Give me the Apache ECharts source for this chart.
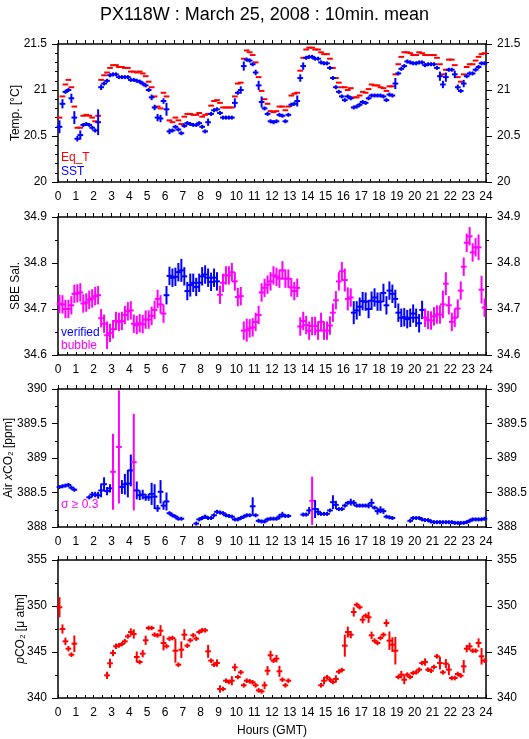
<!DOCTYPE html>
<html><head><meta charset="utf-8">
<script src="https://cdn.jsdelivr.net/npm/echarts@6/dist/echarts.min.js"></script>
<style>html,body{margin:0;padding:0;background:#fff}#c{width:529px;height:739px}</style>
</head><body><div id="c"></div>
<script>
// ---- data: 10-minute means, index i = 0..143 (one value per 10 min) ----
const titleText = 'PX118W : March 25, 2008 : 10min. mean';
const hourTicks = [0,1,2,3,4,5,6,7,8,9,10,11,12,13,14,15,16,17,18,19,20,21,22,23,24];

const eqT = [
 20.70,20.93,21.06,21.11,21.03,20.82, 20.59,20.59,20.72,20.73,20.72,20.70,
 20.66,20.72,21.11,21.16,21.19,21.24, 21.27,21.27,21.25,21.25,21.24,21.24,
 21.20,21.20,21.19,21.20,21.18,21.15, 21.09,21.03,20.93,20.82,20.80,20.97,
 20.93,20.67,20.65,20.70,20.67,20.63, 20.71,20.74,20.74,20.73,20.73,20.75,
 20.71,20.73,20.74,20.83,20.88,20.89, 20.86,20.81,20.81,20.81,20.81,20.93,
 21.07,21.08,21.34,21.43,21.41,21.38, 21.30,21.14,20.99,20.90,20.85,20.77,
 20.76,20.77,20.82,20.82,20.78,20.82, 20.94,20.96,20.97,21.21,21.35,21.44,
 21.46,21.46,21.44,21.44,21.41,21.39, 21.39,21.34,21.24,21.13,21.08,21.03,
 21.03,21.00,21.02,20.92,20.92,20.94, 20.98,20.97,21.01,21.06,21.05,21.05,
 21.03,21.02,20.99,21.04,21.04,21.17, 21.28,21.36,21.41,21.41,21.40,21.38,
 21.38,21.41,21.40,21.38,21.38,21.38, 21.38,21.35,21.28,21.17,21.22,21.33,
 21.33,21.27,21.14,21.09,21.17,21.25, 21.28,21.28,21.32,21.36,21.39,21.40];

const sst = [
 20.60,20.85,20.98,21.00,20.91,20.70, 20.47,20.51,20.62,20.63,20.62,20.59,
 20.56,20.65,21.03,21.07,21.10,21.16, 21.17,21.17,21.14,21.14,21.14,21.14,
 21.11,21.11,21.10,21.09,21.07,21.05, 21.00,20.92,20.81,20.70,20.69,20.88,
 20.79,20.55,20.56,20.60,20.57,20.53, 20.61,20.64,20.63,20.62,20.62,20.64,
 20.60,20.55,20.65,20.74,20.78,20.79, 20.75,20.70,20.70,20.70,20.70,20.86,
 20.97,21.00,21.26,21.33,21.32,21.28, 21.19,21.05,20.87,20.80,20.74,20.66,
 20.65,20.66,20.73,20.72,20.66,20.73, 20.84,20.85,20.88,21.13,21.26,21.35,
 21.36,21.36,21.34,21.34,21.30,21.29, 21.29,21.24,21.13,21.03,20.98,20.93,
 20.89,20.93,20.91,20.81,20.82,20.84, 20.87,20.86,20.91,20.94,20.94,20.94,
 20.94,20.93,20.89,20.95,20.94,21.07, 21.18,21.23,21.26,21.31,21.30,21.29,
 21.29,21.30,21.30,21.27,21.28,21.28, 21.28,21.24,21.15,21.06,21.14,21.22,
 21.22,21.17,21.03,20.99,21.07,21.15, 21.18,21.18,21.22,21.25,21.29,21.29];
const sstErrDefault = 0.012;
const sstErr = {0:0.07,1:0.05,4:0.05,5:0.07,6:0.03,7:0.05,13:0.14,14:0.03,31:0.03,32:0.03,33:0.04,34:0.04,35:0.03,36:0.07,37:0.03,50:0.04,59:0.05,61:0.04,62:0.05,66:0.03,67:0.05,68:0.06,80:0.06,81:0.04,82:0.04,113:0.06,128:0.05,129:0.04,130:0.05,133:0.04,134:0.03,136:0.04};

const sal = [
 34.711,34.710,34.700,34.700,34.708,34.733, 34.734,34.736,34.712,34.714,34.720,34.723,
 34.728,34.730,34.680,34.668,34.643,34.648, 34.656,34.674,34.672,34.674,34.687,34.695,
 34.697,34.668,34.665,34.669,34.667,34.677, 34.677,34.685,34.698,34.722,34.710,34.690,
 34.730,34.772,34.768,34.770,34.780,34.784, 34.771,34.739,34.752,34.757,34.748,34.757,
 34.771,34.775,34.768,34.759,34.768,34.760, 34.731,34.757,34.773,34.773,34.780,34.760,
 34.726,34.728,34.653,34.654,34.658,34.660, 34.672,34.687,34.736,34.746,34.753,34.760,
 34.773,34.770,34.766,34.784,34.766,34.766, 34.747,34.739,34.746,34.662,34.674,34.665,
 34.653,34.663,34.663,34.653,34.672,34.653, 34.653,34.664,34.692,34.719,34.760,34.782,
 34.763,34.722,34.725,34.692,34.697,34.705, 34.717,34.716,34.700,34.718,34.725,34.716,
 34.716,34.735,34.708,34.740,34.733,34.722, 34.692,34.681,34.682,34.678,34.681,34.690,
 34.681,34.669,34.698,34.681,34.676,34.675, 34.684,34.688,34.688,34.710,34.755,34.708,
 34.672,34.681,34.701,34.740,34.792,34.844, 34.858,34.823,34.834,34.834,34.742,34.703];
// 1 = bubble (magenta), 0 = verified (blue)
const salBubble = [
 1,1,1,1,1,1, 1,1,1,1,1,1, 1,1,1,1,1,1, 1,1,1,1,1,1, 1,1,1,1,1,1, 1,1,1,1,1,1,
 0,0,0,0,0,0, 0,0,0,0,0,0, 0,0,0,0,0,0, 1,1,1,1,1,1, 1,1,1,1,1,1, 1,1,1,1,1,1,
 1,1,1,1,1,1, 1,1,1,1,1,1, 1,1,1,1,1,1, 1,1,1,1,1,1, 1,1,1,0,0,0, 0,0,0,0,0,0,
 0,0,0,0,0,0, 0,0,0,0,0,0, 0,0,0,1,1,1, 1,1,1,1,1,1, 1,1,1,1,1,1, 1,1,1,1,1,1];
const salErrDefault = 0.02;
const salErr = {16:0.03,41:0.025,44:0.025,63:0.025,96:0.025,97:0.025,99:0.025,129:0.03,130:0.025,141:0.028,142:0.03};

const air = [
 388.58,388.59,388.60,388.61,388.57,388.54, null,null,null,null,388.43,388.47,
 388.47,388.46,388.53,388.62,388.52,388.56, 388.80,null,389.16,388.58,388.62,388.63,
 388.82,388.94,388.53,388.46,388.47,388.43, 388.43,388.48,388.44,388.27,388.51,388.31,
 388.37,388.20,388.17,388.15,388.12,388.12, null,null,null,null,388.05,388.11,
 388.13,388.15,388.13,388.13,388.17,388.22, 388.21,388.20,388.17,388.16,388.15,388.11,
 388.11,388.13,388.15,388.17,388.17,388.30, 388.17,388.09,388.08,388.08,388.11,388.12,
 388.12,388.12,388.15,388.18,388.16,388.16, null,null,null,null,388.18,388.18,
 388.24,388.38,388.26,388.22,388.19,388.19, 388.19,388.24,388.36,388.32,388.26,388.26,
 388.31,388.35,388.36,388.35,388.31,388.31, 388.31,388.31,388.31,388.35,388.28,388.23,
 388.25,388.23,388.15,388.14,388.13,null, null,null,null,null,388.09,388.13,
 388.13,388.13,388.11,388.10,388.10,388.08, 388.07,388.07,388.07,388.07,388.07,388.07,
 388.07,388.06,388.06,388.06,388.06,388.07, 388.09,388.11,388.11,388.11,388.11,388.12];
const airErrDefault = 0.02;
const airErr = {3:0.03,10:0.03,11:0.04,12:0.04,13:0.05,14:0.1,15:0.1,16:0.06,17:0.06,18:0.55,20:0.82,21:0.1,22:0.15,23:0.2,24:0.23,25:0.7,26:0.13,27:0.07,28:0.07,29:0.05,30:0.05,31:0.16,32:0.18,33:0.05,34:0.17,35:0.06,36:0.13,65:0.13,74:0.04,75:0.04,84:0.05,85:0.35,86:0.13,87:0.05,92:0.1,93:0.06,98:0.05,99:0.04,104:0.04,105:0.06,107:0.05,108:0.05,109:0.04};
const airSigmaLimit = 0.3;

const pco2 = [
 349.86,347.50,346.16,345.36,344.71,345.90, null,null,null,null,null,null,
 null,null,null,null,342.46,343.77, 344.89,345.62,345.72,345.87,346.16,346.70,
 347.17,346.96,344.46,343.91,344.82,346.27, 347.61,347.61,346.88,346.81,347.32,345.98,
 345.62,346.45,346.52,345.14,343.62,345.25, 346.88,345.69,346.27,346.81,346.45,347.17,
 347.36,347.36,345.07,344.06,343.62,343.80, 340.98,340.98,341.88,341.74,341.88,343.33,
 342.28,342.79,341.38,341.88,341.81,341.70, 341.38,340.83,340.72,341.38,342.97,344.64,
 344.06,344.28,342.90,341.99,341.38,341.88, null,null,null,null,null,null,
 null,null,null,null,341.38,341.88, 342.25,341.99,341.74,342.07,342.86,343.04,
 345.69,347.17,346.88,349.35,350.14,349.86, 348.51,348.95,348.77,346.81,346.23,345.98,
 346.52,346.88,348.15,346.23,345.80,345.14, 342.28,342.54,341.99,342.54,342.28,342.72,
 342.79,343.08,343.80,343.91,343.08,342.97, 343.37,344.53,343.80,342.79,343.73,343.08,
 342.17,342.17,342.61,342.43,343.44,345.36, 345.62,345.14,345.14,345.98,344.53,344.06];
const pco2ErrDefault = 0.25;
const pco2Err = {0:1.1,1:0.5,2:0.4,3:0.3,5:0.9,16:0.4,17:0.5,18:0.35,19:0.3,24:0.4,25:0.5,26:0.6,28:0.4,29:0.5,34:0.6,35:0.8,39:1.3,41:0.9,42:0.6,50:0.7,53:0.4,54:0.4,58:0.5,59:0.4,69:0.4,70:0.5,71:0.5,73:0.4,74:0.6,89:0.4,93:0.4,96:1.2,97:0.6,98:0.4,99:0.5,102:0.4,104:0.6,105:0.4,110:0.4,111:1.0,112:0.8,113:1.5,115:0.4,116:0.5,123:0.4,128:0.7,130:0.5,131:0.6,136:0.7,137:0.4,138:0.4,141:0.5,142:0.9};

// ---- styling ----
const FF = '"Liberation Sans", Arial, Helvetica, sans-serif';
const RED = '#ff0000', BLUE = '#0000ff', MAG = '#ff00ff';
const STEP = 1 / 6;          // 10 minutes in hours
const HW = 0.16;             // half width of horizontal bar (hours)
const LW = 2;                // mark line width
const MINV = 2;              // minimal half height of vertical bar (px)

function points(vals, errMap, errDef, flags) {
  const out = [];
  vals.forEach((v, i) => {
    if (v == null) return;
    const e = errMap && errMap[i] != null ? errMap[i] : errDef;
    out.push([i * STEP + STEP / 2, v, e, flags ? flags[i] : 0]);
  });
  return out;
}

function markSeries(grid, data, colorFn, vertical) {
  return {
    type: 'custom', xAxisIndex: grid * 2, yAxisIndex: grid * 2,
    dimensions: ['t', 'v', 'e', 'f'], encode: { x: 't', y: 'v' },
    data: data, animation: false, silent: true,
    renderItem: function (params, api) {
      const t = api.value(0), v = api.value(1), e = api.value(2), f = api.value(3);
      const color = colorFn(f, e);
      const a = api.coord([t - HW, v]), b = api.coord([t + HW, v]);
      const children = [{ type: 'line', shape: { x1: a[0], y1: a[1], x2: b[0], y2: b[1] },
        style: { stroke: color, lineWidth: LW } }];
      if (vertical) {
        const c = api.coord([t, v]);
        let top = api.coord([t, v + e])[1], bot = api.coord([t, v - e])[1];
        if (bot - top < 2 * MINV) { top = c[1] - MINV; bot = c[1] + MINV; }
        children.push({ type: 'line', shape: { x1: c[0], y1: top, x2: c[0], y2: bot },
          style: { stroke: color, lineWidth: LW } });
      }
      return { type: 'group', children: children };
    }
  };
}

const gridTops = [44, 217, 389, 560];
const GH = 138;
const yConf = [
  { min: 20, max: 21.5, interval: 0.5, minor: 5, name: 'Temp. [°C]', gap: 35 },
  { min: 34.6, max: 34.9, interval: 0.1, minor: 2, name: 'SBE Sal.', gap: 35 },
  { min: 388, max: 390, interval: 0.5, minor: 2, name: 'Air {i|x}CO₂ [ppm]', gap: 42 },
  { min: 340, max: 355, interval: 5, minor: 2, name: '{i|p}CO₂ [μ atm]', gap: 30 }
];

const black = { color: '#000', width: 1.5 };
const grids = [], xAxes = [], yAxes = [];
gridTops.forEach((top, g) => {
  grids.push({ left: 58, right: 43, top: top, height: GH, containLabel: false, outerBoundsMode: 'none' });
  const last = g === gridTops.length - 1;
  xAxes.push({
    gridIndex: g, type: 'value', min: hourTicks[0], max: hourTicks[hourTicks.length - 1], interval: 1,
    position: 'bottom',
    axisLine: { show: true, onZero: false, lineStyle: black },
    axisTick: { show: true, inside: true, length: 3, lineStyle: { color: '#000', width: 1 } },
    minorTick: { show: true, splitNumber: 2, length: 3, lineStyle: { color: '#000', width: 1 } },
    axisLabel: { show: true, interval: 0, color: '#000', fontSize: 12, fontFamily: FF, margin: 9 },
    splitLine: { show: false },
    name: last ? 'Hours (GMT)' : '', nameLocation: 'middle', nameGap: 27, nameMoveOverlap: false,
    nameTextStyle: { color: '#000', fontSize: 12, fontFamily: FF }
  });
  xAxes.push({
    gridIndex: g, type: 'value', min: 0, max: 24, interval: 1, position: 'top',
    axisLine: { show: true, onZero: false, lineStyle: black },
    axisTick: { show: true, inside: false, length: 4, lineStyle: { color: '#000', width: 1 } },
    minorTick: { show: true, splitNumber: 2, length: 4, lineStyle: { color: '#000', width: 1 } },
    axisLabel: { show: false }, splitLine: { show: false }
  });
  const c = yConf[g];
  const yBase = {
    gridIndex: g, type: 'value', min: c.min, max: c.max, interval: c.interval,
    axisLine: { show: true, onZero: false, lineStyle: black },
    axisTick: { show: true, inside: false, length: 6, lineStyle: { color: '#000', width: 1 } },
    minorTick: { show: true, splitNumber: c.minor, length: 3, lineStyle: { color: '#000', width: 1 } },
    axisLabel: { color: '#000', fontSize: 12, fontFamily: FF, margin: 11 },
    splitLine: { show: false }
  };
  yAxes.push(Object.assign({}, yBase, {
    position: 'left', name: c.name, nameLocation: 'middle', nameGap: c.gap, nameMoveOverlap: false,
    nameTextStyle: { color: '#000', fontSize: 12, lineHeight: 14, fontFamily: FF,
      rich: { i: { fontStyle: 'italic', fontSize: 12, lineHeight: 14, fontFamily: FF, color: '#000' } } }
  }));
  yAxes.push(Object.assign({}, yBase, { position: 'right' }));
});

const series = [
  markSeries(0, points(eqT, null, 0), () => RED, false),
  markSeries(0, points(sst, sstErr, sstErrDefault), () => BLUE, true),
  markSeries(1, points(sal, salErr, salErrDefault, salBubble), (f) => f ? MAG : BLUE, true),
  markSeries(2, points(air, airErr, airErrDefault), (f, e) => e >= airSigmaLimit ? MAG : BLUE, true),
  markSeries(3, points(pco2, pco2Err, pco2ErrDefault), () => RED, true)
];

function label(text, x, y, color) {
  return { type: 'text', x: x, y: y, silent: true,
    style: { text: text, fill: color, font: '12px ' + FF, align: 'left', verticalAlign: 'middle' } };
}

const chart = echarts.init(document.getElementById('c'), null, { renderer: 'canvas' });
chart.setOption({
  animation: false,
  backgroundColor: '#fff',
  title: { text: titleText, left: 'center', top: 1,
    textStyle: { color: '#000', fontSize: 18, fontWeight: 'normal', fontFamily: FF } },
  grid: grids, xAxis: xAxes, yAxis: yAxes, series: series,
  graphic: [
    label('Eq_T', 61, 158, RED),
    label('SST', 61, 171.5, BLUE),
    label('verified', 61, 333, BLUE),
    label('bubble', 61, 346, MAG),
    label('σ ≥ 0.3', 61, 505, MAG)
  ]
});
</script>
</body></html>
